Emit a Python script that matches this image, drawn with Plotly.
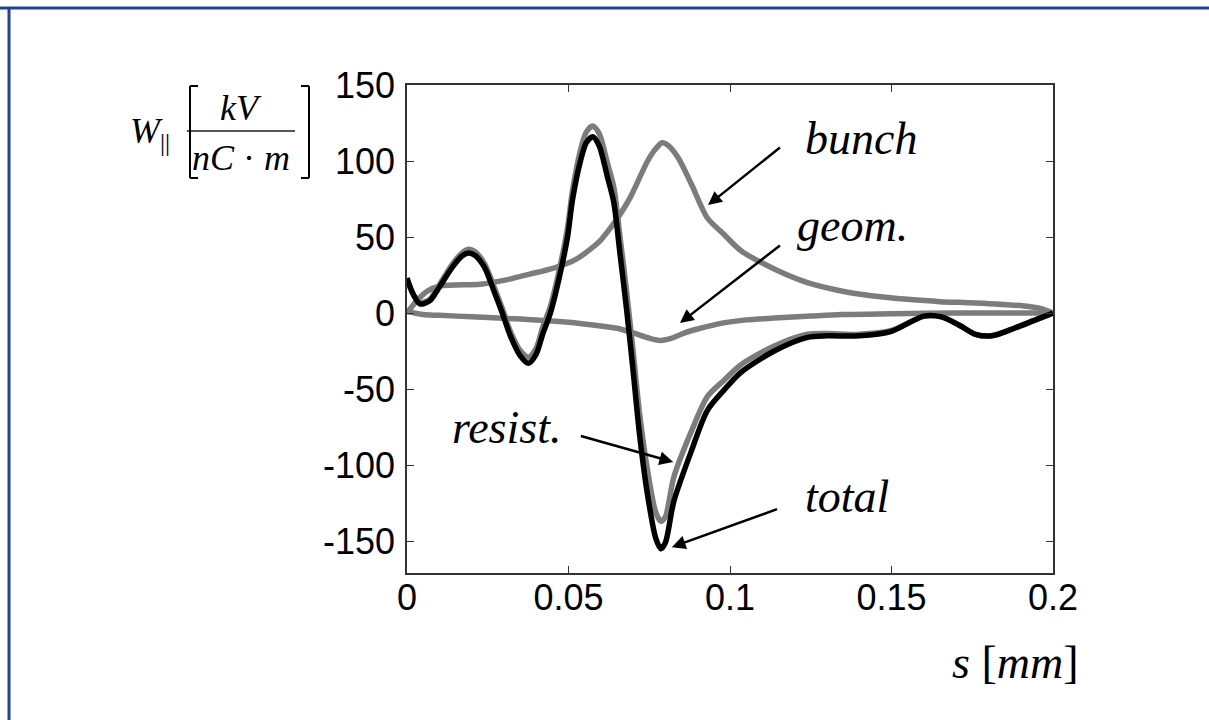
import plotly.graph_objects as go

# ---- data ----
s_total = [0, 0.002, 0.004, 0.007, 0.010, 0.014, 0.017, 0.019, 0.021, 0.024, 0.027, 0.0295, 0.032, 0.035,
           0.0376, 0.040, 0.042, 0.0444, 0.047, 0.0497, 0.0512, 0.0537, 0.0555, 0.0575, 0.0595, 0.062, 0.064,
           0.066, 0.068, 0.070, 0.072, 0.0745, 0.077, 0.0786, 0.080, 0.0826, 0.088, 0.093, 0.098, 0.1034,
           0.1137, 0.124, 0.130, 0.14, 0.15, 0.16, 0.1655, 0.171, 0.176, 0.181, 0.188, 0.194, 0.2]
w_total = [23, 12, 6, 8, 17, 30, 37.5, 39.5, 38, 30, 14, 0, -15, -28,
           -33, -27, -14, 0, 22, 50, 74, 100, 112, 116, 110, 90, 73,
           38, 2, -38, -80, -120, -148, -155, -151, -124, -91, -64, -51, -39,
           -25, -16, -15, -15, -12, -2, -2.5, -8, -14, -15, -10, -5, 0]

s_resist = s_total
w_resist = [22, 12, 7, 9, 18.5, 32, 39.5, 42, 40.5, 32.5, 17, 3, -12, -24.5,
            -29, -23, -9.5, 4.5, 27, 56, 80, 107, 119, 123, 118, 99, 83,
            49, 14, -25, -66, -104, -131, -137, -134, -108, -78, -55, -44.5, -34,
            -21.7, -14, -13.5, -14, -11.5, -2, -2.5, -8, -14, -15, -10, -5, 0]

s_geom = [0, 0.005, 0.01, 0.02, 0.03, 0.04, 0.05, 0.06, 0.065, 0.07, 0.075, 0.0786, 0.082, 0.086, 0.09,
          0.098, 0.105, 0.1137, 0.125, 0.1345, 0.15, 0.17, 0.2]
w_geom = [1, -1, -1.5, -2.5, -3.5, -4.5, -6, -8.5, -10, -13, -16.5, -18, -16.5, -13, -10.5,
          -6.5, -4.5, -3.3, -2, -1, -0.5, 0, 0]

s_bunch = [0, 0.003, 0.006, 0.0102, 0.0227, 0.03, 0.038, 0.0454, 0.052, 0.0568, 0.060, 0.063, 0.066, 0.069,
           0.0745, 0.077, 0.079, 0.081, 0.084, 0.088, 0.093, 0.098, 0.1034, 0.1137, 0.124, 0.1345, 0.145,
           0.155, 0.165, 0.176, 0.191, 0.196, 0.2]
w_bunch = [0, 8, 14, 17.8, 19, 21.5, 25.6, 29.6, 35, 42, 48, 56, 65, 75.6,
           100, 108, 112, 110, 102, 85, 62.5, 52, 41, 29, 20, 14.5, 11,
           9, 7.5, 6.6, 4.6, 3, 0]

x_ticks = [0, 0.05, 0.1, 0.15, 0.2]
x_ticklabels = ["0", "0.05", "0.1", "0.15", "0.2"]
y_ticks = [-150, -100, -50, 0, 50, 100, 150]
y_ticklabels = ["-150", "-100", "-50", "0", "50", "100", "150"]

GREY = "#7c7c7c"
SERIF = "Liberation Serif"
SANS = "Liberation Sans"

fig = go.Figure()
for s, w in [(s_bunch, w_bunch), (s_geom, w_geom), (s_resist, w_resist)]:
    fig.add_trace(go.Scatter(x=s, y=w, mode="lines",
                             line=dict(color=GREY, width=5.5, shape="spline", smoothing=0.8),
                             showlegend=False, hoverinfo="skip"))
fig.add_trace(go.Scatter(x=s_total, y=w_total, mode="lines",
                         line=dict(color="black", width=5.5, shape="spline", smoothing=0.8),
                         showlegend=False, hoverinfo="skip"))

axis_common = dict(showline=True, mirror="ticks", linecolor="#333333", linewidth=1.5,
                   ticks="inside", ticklen=7, tickwidth=1.2, tickcolor="#333333",
                   showgrid=False, zeroline=False,
                   tickfont=dict(family=SANS, size=36, color="black"))
fig.update_xaxes(range=[0, 0.2], tickvals=x_ticks, ticktext=x_ticklabels,
                 ticklabelstandoff=-8, **axis_common)
fig.update_yaxes(range=[-171, 150], tickvals=y_ticks, ticktext=y_ticklabels,
                 ticklabelstandoff=3, **axis_common)

# arrows (tail -> head in data coords)
arrows = [
    ((0.1164, 110.5), (0.0932, 71)),
    ((0.1164, 46), (0.0845, -6.6)),
    ((0.0529, -80.3), (0.0824, -98)),
    ((0.1155, -128.3), (0.082, -154)),
]
for (tx, ty), (hx, hy) in arrows:
    fig.add_annotation(x=hx, y=hy, ax=tx, ay=ty, xref="x", yref="y", axref="x", ayref="y",
                       showarrow=True, arrowhead=2, arrowsize=1.1, arrowwidth=2.5,
                       arrowcolor="black", text=" ")

def px2paper(px, py):
    return (px - 407) / 646, (573 - py) / 488

labels = [("bunch", 861, 138), ("geom.", 852, 226), ("resist.", 506, 427), ("total", 847, 497)]
for t, px, py in labels:
    x, y = px2paper(px, py)
    fig.add_annotation(x=x, y=y, xref="paper", yref="paper", text=f"<i>{t}</i>", showarrow=False,
                       font=dict(family=SERIF, size=46, color="black"), xanchor="center", yanchor="middle")

# x axis title
x, y = px2paper(1015, 662)
fig.add_annotation(x=x, y=y, xref="paper", yref="paper", text="<i>s</i> [<i>mm</i>]", showarrow=False,
                   font=dict(family=SERIF, size=46, color="black"), xanchor="center", yanchor="middle")

# y axis title: W_|| [ kV / nC·m ]
x, y = px2paper(150, 133)
fig.add_annotation(x=x, y=y, xref="paper", yref="paper", text="<i>W</i><sub>||</sub>", showarrow=False,
                   font=dict(family=SERIF, size=36, color="black"), xanchor="center", yanchor="middle")
x, y = px2paper(241, 108)
fig.add_annotation(x=x, y=y, xref="paper", yref="paper", text="<i>kV</i>", showarrow=False,
                   font=dict(family=SERIF, size=36, color="black"), xanchor="center", yanchor="middle")
x, y = px2paper(241, 158)
fig.add_annotation(x=x, y=y, xref="paper", yref="paper", text="<i>nC</i> · <i>m</i>", showarrow=False,
                   font=dict(family=SERIF, size=36, color="black"), xanchor="center", yanchor="middle")

shapes = []
def pline(x0, y0, x1, y1, color="black", width=2):
    a, b = px2paper(x0, y0)
    c, d = px2paper(x1, y1)
    shapes.append(dict(type="line", xref="paper", yref="paper", x0=a, y0=b, x1=c, y1=d,
                       line=dict(color=color, width=width)))

# fraction bar
pline(187, 131, 295, 131, color="#555555", width=2)
# left bracket
pline(190, 86, 190, 178); pline(190, 86, 198, 86); pline(190, 178, 198, 178)
# right bracket
pline(309, 86, 309, 178); pline(301, 86, 309, 86); pline(301, 178, 309, 178)
# blue frame
pline(0, 8, 1209, 8, color="#1d4690", width=3)
pline(9, 8, 9, 720, color="#1d4690", width=3)

fig.update_layout(width=1209, height=720, margin=dict(l=407, r=156, t=85, b=147),
                  paper_bgcolor="white", plot_bgcolor="white", shapes=shapes)

fig.write_html("out.html")
